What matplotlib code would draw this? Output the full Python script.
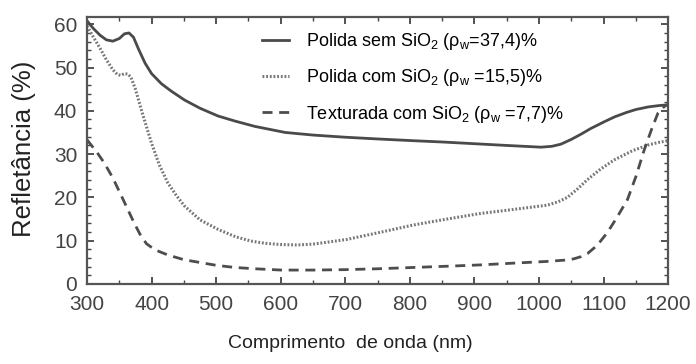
import matplotlib.pyplot as plt
from matplotlib.ticker import MultipleLocator

plt.rcParams["font.family"] = ["Liberation Sans", "DejaVu Sans"]
plt.rcParams["mathtext.fontset"] = "custom"
plt.rcParams["mathtext.rm"] = "Liberation Sans"
plt.rcParams["mathtext.it"] = "Liberation Sans:italic"

# comprimento de onda (nm) e refletância (%) de cada amostra
lambda_sem = [300, 310, 320, 330, 340, 350, 358, 365, 372, 380, 390, 400, 415,
              430, 451, 475, 503, 530, 560, 607, 650, 700, 750, 805, 850, 900,
              950, 1003, 1020, 1034, 1050, 1065, 1080, 1100, 1117, 1135, 1150,
              1169, 1185, 1200]
ref_sem = [60.8, 59.0, 57.5, 56.4, 56.1, 56.7, 57.8, 58.0, 57.0, 54.2, 51.0,
           48.6, 46.3, 44.6, 42.5, 40.6, 38.8, 37.6, 36.4, 35.0, 34.4, 33.9,
           33.5, 33.1, 32.8, 32.4, 32.0, 31.6, 31.8, 32.3, 33.4, 34.6, 35.9,
           37.4, 38.6, 39.6, 40.3, 40.9, 41.2, 41.4]

lambda_com = [300, 310, 320, 330, 340, 347, 352, 358, 363, 368, 375, 385, 400,
              412, 425, 438, 451, 475, 503, 530, 554, 575, 600, 625, 650, 675,
              703, 750, 805, 850, 910, 960, 1013, 1030, 1044, 1060, 1075, 1095,
              1117, 1145, 1169, 1185, 1200]
ref_com = [59.6, 57.0, 54.5, 51.8, 49.5, 48.4, 48.2, 48.6, 48.5, 47.8, 45.0,
           39.8, 32.5, 27.5, 23.4, 20.5, 18.0, 14.8, 12.6, 10.9, 9.9, 9.4, 9.1,
           9.0, 9.2, 9.7, 10.3, 11.8, 13.6, 14.8, 16.3, 17.2, 18.2, 19.0, 20.0,
           22.0, 24.1, 26.5, 28.7, 30.8, 32.1, 32.7, 33.1]

lambda_tex = [300, 315, 327, 340, 355, 373, 382, 392, 405, 425, 450, 477, 500,
              529, 560, 601, 650, 700, 750, 805, 860, 910, 960, 1013, 1040,
              1054, 1065, 1075, 1090, 1106, 1120, 1137, 1150, 1163, 1175, 1184,
              1194, 1200]
ref_tex = [33.3, 30.5, 27.9, 24.5, 19.8, 14.1, 11.5, 9.3, 7.9, 6.7, 5.6, 4.9,
           4.3, 3.8, 3.5, 3.2, 3.2, 3.3, 3.5, 3.8, 4.1, 4.4, 4.8, 5.2, 5.5, 5.8,
           6.3, 7.0, 8.9, 11.9, 15.2, 19.5, 24.8, 31.0, 36.0, 39.4, 41.0, 41.5]

rotulos = [r"Polida sem SiO$_2$ (ρ$_\mathrm{w}$=37,4)%",
           r"Polida com SiO$_2$ (ρ$_\mathrm{w}$ =15,5)%",
           r"Texturada com SiO$_2$ (ρ$_\mathrm{w}$ =7,7)%"]

fig = plt.figure(figsize=(6.96, 3.64), dpi=100)
ax = fig.add_axes([0.125, 0.22, 0.835, 0.7335])

ax.plot(lambda_sem, ref_sem, color="#4a4a4a", lw=2.0, label=rotulos[0])
ax.plot(lambda_com, ref_com, color="#777777", lw=2.2, linestyle=(0, (0.6, 0.6)),
        label=rotulos[1])
ax.plot(lambda_tex, ref_tex, color="#4d4d4d", lw=2.0, linestyle=(0, (3.6, 2.4)),
        label=rotulos[2])

ax.set_xlim(300, 1200)
ax.set_ylim(0, 61.7)
ax.xaxis.set_major_locator(MultipleLocator(100))
ax.xaxis.set_minor_locator(MultipleLocator(50))
ax.yaxis.set_major_locator(MultipleLocator(10))
ax.yaxis.set_minor_locator(MultipleLocator(2))
ax.tick_params(which="both", direction="in", top=True, right=True,
               colors="#444444", labelcolor="#444444", labelsize=15)
ax.tick_params(which="major", length=5, width=1.3)
ax.tick_params(which="minor", length=3, width=1.0)
ax.tick_params(axis="x", which="major", pad=8)
ax.tick_params(axis="y", which="major", pad=7)
for lado in ax.spines.values():
    lado.set_linewidth(1.6)
    lado.set_color("#555555")

ax.set_xlabel("Comprimento  de onda (nm)", fontsize=14, color="#222222",
              labelpad=15)
ax.xaxis.label.set_x(0.453)
ax.set_ylabel("Refletância (%)", fontsize=18.5, color="#222222", labelpad=13)
ax.yaxis.label.set_y(0.505)

ax.legend(loc="upper left", bbox_to_anchor=(0.288, 0.975), frameon=False,
          fontsize=13, handlelength=1.5, handletextpad=0.95,
          labelspacing=0.85, borderaxespad=0)

fig.savefig("out.png", dpi=100)
